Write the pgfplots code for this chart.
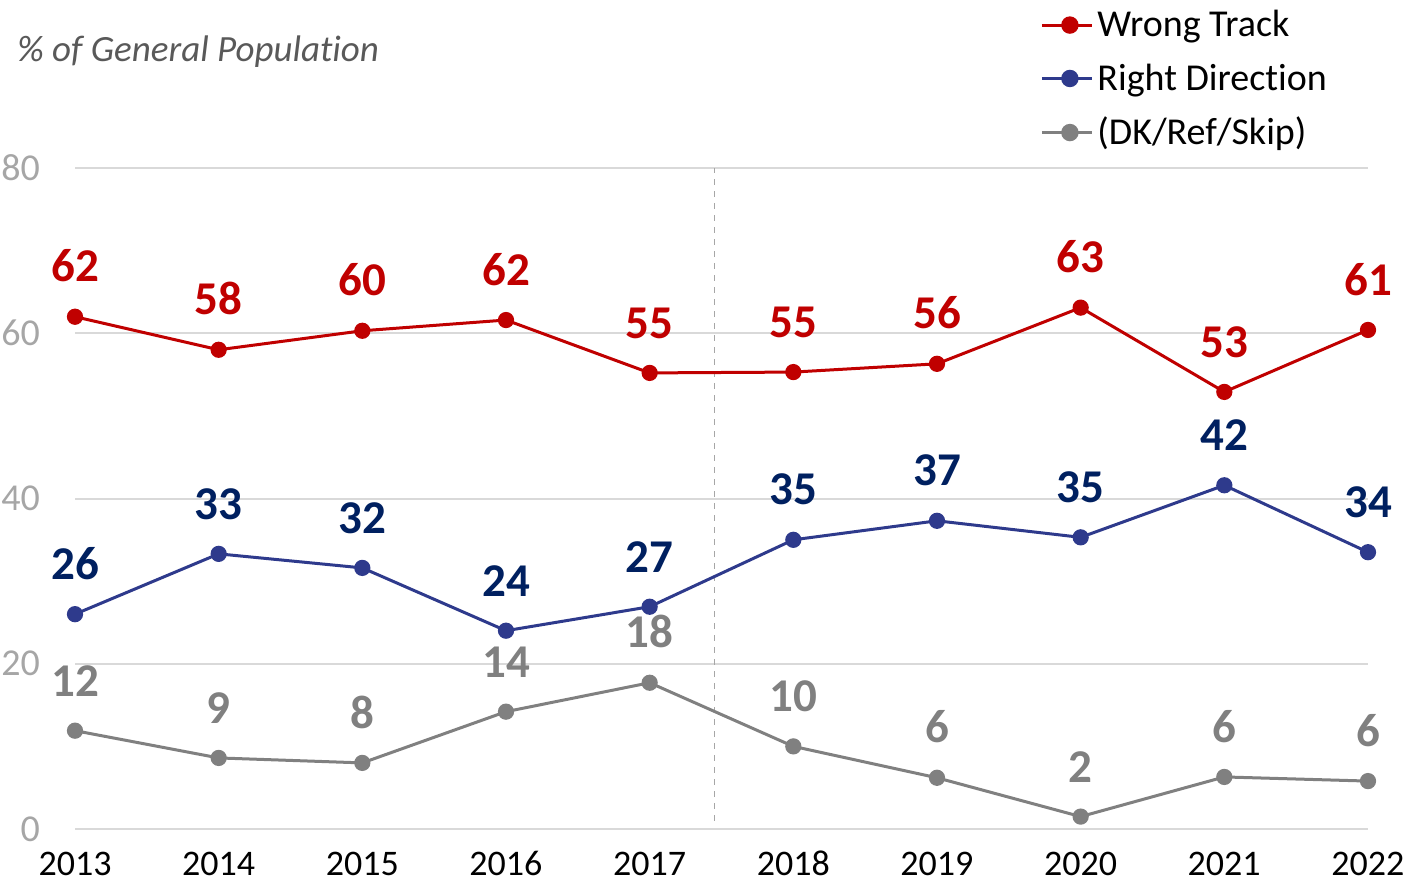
\documentclass[border=0pt]{standalone}
\usepackage{pgfplots}
\pgfplotsset{compat=1.18}
\usepackage{fontspec}
\setmainfont[Ligatures=NoCommon, Contextuals=NoAlternate]{Carlito}

\definecolor{wrongred}{HTML}{C00000}
\definecolor{rightblue}{HTML}{2E3A8C}
\definecolor{rightlab}{HTML}{002060}
\definecolor{dkgray}{HTML}{808080}
\definecolor{gridgray}{HTML}{D9D9D9}
\definecolor{ticklab}{HTML}{A6A6A6}
\definecolor{titlegray}{HTML}{595959}

\pgfplotsset{
  lbl/.style={
    nodes near coords,
    nodes near coords style={anchor=south, inner sep=0pt, yshift=16.5pt,
      font=\fontsize{23.5}{23.5}\selectfont\bfseries, text=#1},
    point meta=explicit symbolic,
  },
}

\begin{document}
\begin{tikzpicture}
  \useasboundingbox (-37.5pt,-26.5pt) rectangle (666pt,414.5pt);
  \begin{axis}[
    scale only axis,
    width=646.5pt, height=330.5pt,
    xmin=2013, xmax=2022,
    ymin=0, ymax=80,
    xtick={2013,...,2022},
    ytick={0,20,40,60,80},
    xticklabel style={/pgf/number format/1000 sep={}, font=\fontsize{18}{18}\selectfont,
      text=black, anchor=north, inner sep=0pt, text height=12pt, text depth=0pt, yshift=-11pt},
    yticklabel style={font=\fontsize{19}{19}\selectfont, text=ticklab, xshift=-14pt},
    /pgf/number format/assume math mode=true,
    axis line style={draw=none},
    major tick length=0pt,
    ymajorgrids=true,
    grid style={gridgray, line width=1pt},
    clip=false,
    legend style={draw=none, fill=none, at={(482.5pt,411.5pt)}, anchor=north west,
      font=\fontsize{19}{19}\selectfont, row sep=8pt, inner sep=0pt,
      /tikz/every even column/.append style={column sep=2.5pt}},
    legend cell align=left,
    legend image code/.code={\draw[#1, mark repeat=2, mark phase=2, mark size=3.6pt]
      plot coordinates {(0pt,0pt) (14pt,0pt) (25pt,0pt)};},
    every axis plot/.append style={line width=1.5pt, mark=*, mark size=3.3pt},
  ]
    \draw[dkgray!70, dashed, line width=0.6pt] (axis cs:2017.45,1) -- (axis cs:2017.45,80);

    \addplot[color=wrongred, mark options={fill=wrongred}, lbl=wrongred]
      coordinates {
        (2013,62.0) [62]
        (2014,58.0) [58]
        (2015,60.3) [60]
        (2016,61.6) [62]
        (2017,55.2) [55]
        (2018,55.3) [55]
        (2019,56.3) [56]
        (2020,63.1) [63]
        (2021,52.9) [53]
        (2022,60.4) [61]
      };
    \addlegendentry{Wrong Track}

    \addplot[color=rightblue, mark options={fill=rightblue}, lbl=rightlab]
      coordinates {
        (2013,26.0) [26]
        (2014,33.3) [33]
        (2015,31.6) [32]
        (2016,24.0) [24]
        (2017,26.9) [27]
        (2018,35.0) [35]
        (2019,37.3) [37]
        (2020,35.3) [35]
        (2021,41.6) [42]
        (2022,33.5) [34]
      };
    \addlegendentry{Right Direction}

    \addplot[color=dkgray, mark options={fill=dkgray}, lbl=dkgray]
      coordinates {
        (2013,11.9) [12]
        (2014,8.6) [9]
        (2015,8.0) [8]
        (2016,14.2) [14]
        (2017,17.7) [18]
        (2018,10.0) [10]
        (2019,6.2) [6]
        (2020,1.5) [2]
        (2021,6.3) [6]
        (2022,5.8) [6]
      };
    \addlegendentry{(DK/Ref/Skip)}
  \end{axis}
  \node[anchor=base west, inner sep=0pt, text=titlegray,
    font=\fontsize{18.5}{18.5}\selectfont\itshape] at (-29pt,383.5pt) {\% of General Population};
\end{tikzpicture}
\end{document}
